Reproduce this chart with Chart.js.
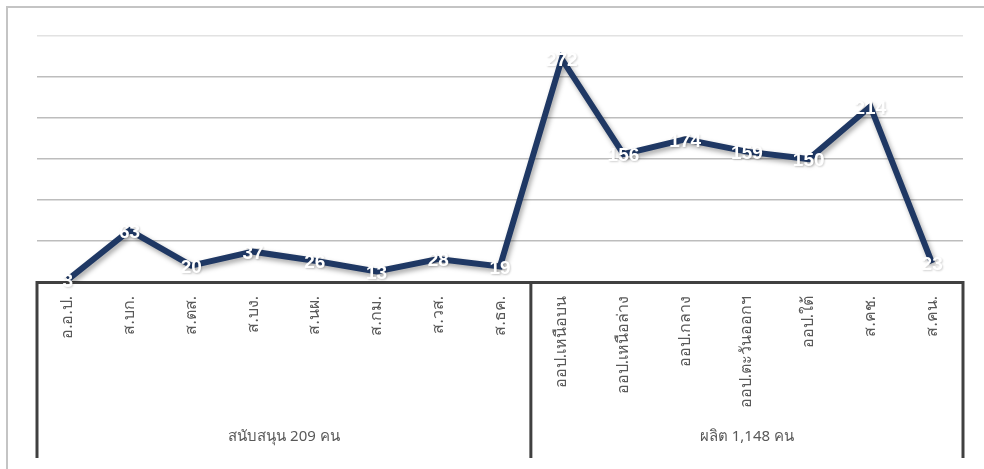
<!DOCTYPE html>
<html>
<head>
<meta charset="utf-8">
<script src="https://cdn.jsdelivr.net/npm/chart.js@4"></script>
<style>
  html, body { margin: 0; padding: 0; background: #ffffff; }
  canvas { display: block; }
</style>
</head>
<body>
<canvas id="chart" width="984" height="469"></canvas>
<script>
// Staff per unit, grouped into support units and production units
const categories = [
  'อ.อ.ป.', 'ส.บก.', 'ส.ตส.', 'ส.บง.', 'ส.นผ.', 'ส.กม.', 'ส.วส.', 'ส.ธค.',
  'ออป.เหนือบน', 'ออป.เหนือล่าง', 'ออป.กลาง', 'ออป.ตะวันออกฯ', 'ออป.ใต้', 'ส.คช.', 'ส.คน.'
];
const staff = [3, 63, 20, 37, 26, 13, 28, 19, 272, 156, 174, 159, 150, 214, 23];
const groups = ['สนับสนุน 209 คน', 'ผลิต 1,148 คน'];
const groupSizes = [8, 7];
const yTicks = { min: 0, max: 300, step: 50 };

const thaiFont = 'Tahoma, "Noto Sans", "DejaVu Sans", sans-serif';

// Light outer frame around the chart
const framePlugin = {
  id: 'frame',
  beforeDraw(chart) {
    const ctx = chart.ctx;
    ctx.save();
    ctx.strokeStyle = '#c4c4c4';
    ctx.lineWidth = 2;
    ctx.beginPath();
    ctx.moveTo(7, chart.height + 2);
    ctx.lineTo(7, 7);
    ctx.lineTo(chart.width + 2, 7);
    ctx.stroke();
    ctx.restore();
  }
};

// Soft drop shadow under the line
const lineShadow = {
  id: 'lineShadow',
  beforeDatasetDraw(chart) {
    const ctx = chart.ctx;
    ctx.save();
    ctx.shadowColor = 'rgba(0,0,0,0.35)';
    ctx.shadowBlur = 5;
    ctx.shadowOffsetX = 2;
    ctx.shadowOffsetY = 3;
  },
  afterDatasetDraw(chart) {
    chart.ctx.restore();
  }
};

// White value labels centred on each point
const valueLabels = {
  id: 'valueLabels',
  afterDatasetsDraw(chart) {
    const ctx = chart.ctx;
    const meta = chart.getDatasetMeta(0);
    const data = chart.data.datasets[0].data;
    ctx.save();
    ctx.font = 'bold 19px "Liberation Sans", Arial, sans-serif';
    ctx.textAlign = 'center';
    ctx.textBaseline = 'middle';
    ctx.fillStyle = '#ffffff';
    ctx.shadowColor = 'rgba(0,0,0,0.18)';
    ctx.shadowBlur = 2;
    ctx.shadowOffsetX = 1;
    ctx.shadowOffsetY = 1;
    meta.data.forEach((pt, i) => {
      ctx.fillText(String(data[i]), pt.x, pt.y + 2);
    });
    ctx.restore();
  }
};

// Second axis level: group boxes and their captions
const groupAxis = {
  id: 'groupAxis',
  afterDraw(chart) {
    const ctx = chart.ctx;
    const x = chart.scales.x;
    const area = chart.chartArea;
    const bottom = 458;
    const edges = [area.left];
    let idx = 0;
    groupSizes.forEach((n, g) => {
      idx += n;
      if (g < groupSizes.length - 1) {
        edges.push((x.getPixelForValue(idx - 1) + x.getPixelForValue(idx)) / 2);
      }
    });
    edges.push(area.right);
    ctx.save();
    ctx.strokeStyle = '#404040';
    ctx.lineWidth = 3;
    edges.forEach(e => {
      ctx.beginPath();
      ctx.moveTo(e, area.bottom - 1);
      ctx.lineTo(e, bottom);
      ctx.stroke();
    });
    ctx.fillStyle = '#595959';
    ctx.font = '15px ' + thaiFont;
    ctx.textAlign = 'center';
    ctx.textBaseline = 'middle';
    groups.forEach((g, i) => {
      ctx.fillText(g, (edges[i] + edges[i + 1]) / 2, 437);
    });
    ctx.restore();
  }
};

new Chart(document.getElementById('chart'), {
  type: 'line',
  data: {
    labels: categories,
    datasets: [{
      data: staff,
      borderColor: '#1f3864',
      borderWidth: 6,
      pointRadius: 0,
      pointHoverRadius: 0,
      tension: 0,
      fill: false,
      borderJoinStyle: 'miter'
    }]
  },
  options: {
    responsive: false,
    animation: false,
    events: [],
    layout: { padding: { left: 37, right: 21, top: 36, bottom: 0 } },
    plugins: {
      legend: { display: false },
      tooltip: { enabled: false },
      title: { display: false }
    },
    scales: {
      x: {
        type: 'category',
        offset: true,
        grid: { display: false, drawTicks: false },
        border: { display: true, color: '#404040', width: 3 },
        ticks: {
          autoSkip: false,
          maxRotation: 90,
          minRotation: 90,
          padding: 14,
          color: '#595959',
          font: { family: thaiFont, size: 16 }
        },
        afterFit(scale) { scale.height = 187; }
      },
      y: {
        min: yTicks.min,
        max: yTicks.max,
        ticks: { display: false, stepSize: yTicks.step },
        border: { display: false },
        grid: {
          drawTicks: false,
          lineWidth: 1.5,
          color: ctx => ctx.tick && ctx.tick.value >= 300 ? '#e2e2e2' : '#bdbdbd'
        },
        afterFit(scale) { scale.width = 0; }
      }
    }
  },
  plugins: [framePlugin, lineShadow, valueLabels, groupAxis]
});
</script>
</body>
</html>
